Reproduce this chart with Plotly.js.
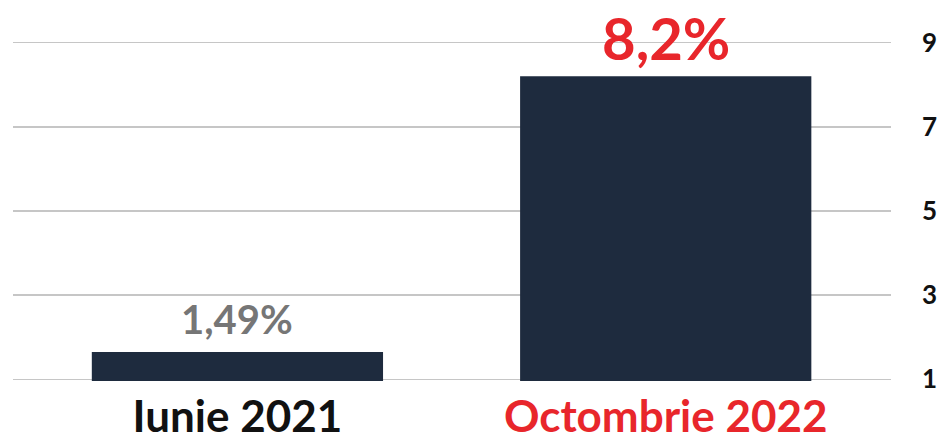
<!DOCTYPE html>
<html>
<head>
<meta charset="utf-8">
<script src="https://cdn.plot.ly/plotly-3.0.1.min.js"></script>
<style>html,body{margin:0;padding:0;background:#fff;}#chart{width:944px;height:443px;}</style>
</head>
<body>
<div id="chart"></div>
<script>
// Data
const categories = ["Iunie 2021", "Octombrie 2022"];
const barValues = [1.65, 8.2];            // bar heights as drawn
const valueLabels = ["1,49%", "8,2%"];    // printed labels
const categoryColors = ["#111111", "#e8262b"];
const labelColors = ["#767676", "#e8262b"];
const labelSizes = [40, 58];
const labelShifts = [7, 2];
const yTicks = [1, 3, 5, 7, 9];

const ticktext = categories.map((c, i) => `<span style="color:${categoryColors[i]}">${c}</span>`);

const trace = {
  type: "bar",
  x: categories,
  y: barValues,
  base: 0,
  marker: {color: "#1e2b3e"},
  width: 0.68,
  hoverinfo: "skip"
};

const annotations = categories.map((c, i) => ({
  x: c, y: barValues[i], xref: "x", yref: "y",
  text: valueLabels[i], showarrow: false,
  yanchor: "bottom", yshift: labelShifts[i],
  font: {family: "Lato", size: labelSizes[i], weight: 700, color: labelColors[i]}
}));

const layout = {
  width: 944, height: 443,
  margin: {l: 13, r: 53, t: 41, b: 62},
  paper_bgcolor: "#fff", plot_bgcolor: "#fff",
  showlegend: false,
  bargap: 0.32,
  xaxis: {
    type: "category",
    range: [-0.524, 1.526],
    tickvals: categories,
    ticktext: ticktext,
    tickfont: {family: "Lato", size: 44, weight: 700, color: "#111"},
    showgrid: false, zeroline: false, showline: false,
    ticks: "", ticklabelstandoff: 6,
    fixedrange: true
  },
  yaxis: {
    side: "right",
    range: [0.96, 9.04],
    tickvals: yTicks,
    ticktext: yTicks.map(String),
    tickfont: {family: "Lato", size: 26, weight: 700, color: "#111"},
    showgrid: true, gridcolor: "#c6c6c6", gridwidth: 1.5,
    zeroline: false, showline: false, ticks: "",
    ticklabelstandoff: 30,
    fixedrange: true
  },
  annotations: annotations
};

Plotly.newPlot("chart", [trace], layout, {displayModeBar: false, staticPlot: true});
</script>
</body>
</html>
